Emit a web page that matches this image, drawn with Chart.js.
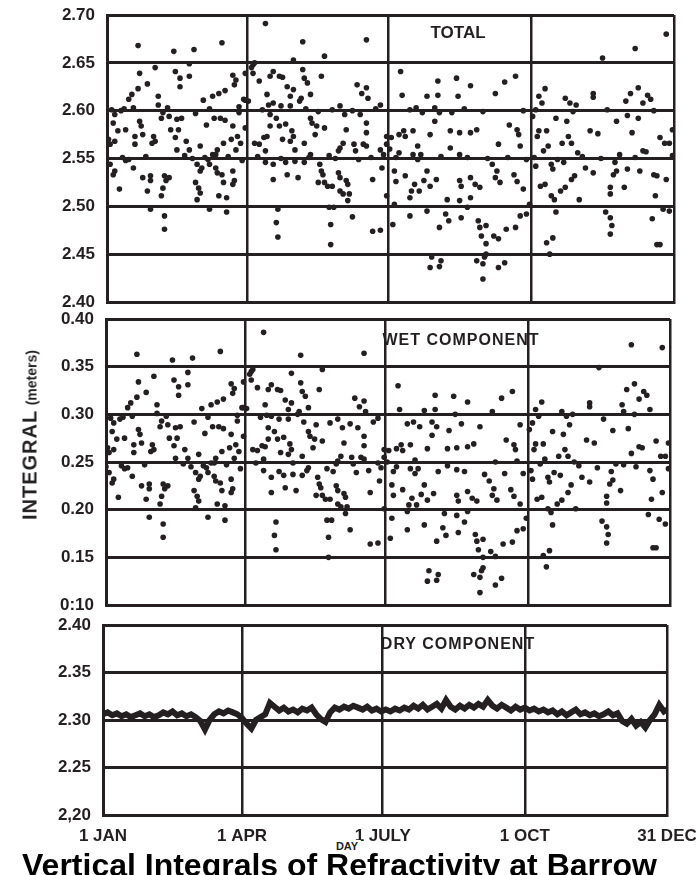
<!DOCTYPE html>
<html>
<head>
<meta charset="utf-8">
<script src="https://cdn.jsdelivr.net/npm/chart.js@4.4.1/dist/chart.umd.min.js"></script>
<style>
  body { margin: 0; width: 696px; height: 875px; overflow: hidden; background: #fff; position: relative;
         font-family: "Liberation Sans", Arial, sans-serif; color: #231f20; }
  canvas { position: absolute; left: 0; }
  .lbl { position: absolute; font-weight: bold; white-space: nowrap; transform: translate(-50%, -50%); }
  #ytitle { position: absolute; left: 30px; top: 435px; transform: translate(-50%, -50%) rotate(-90deg);
            white-space: nowrap; font-weight: bold; }
  #caption { position: absolute; left: 22px; top: 849px; font: bold 32px "Liberation Sans", Arial, sans-serif;
             line-height: 1; white-space: nowrap; color: #000; }
</style>
</head>
<body>
<canvas id="totalChart" width="720" height="310" style="top:0px"></canvas>
<canvas id="wetChart" width="720" height="308" style="top:305px"></canvas>
<canvas id="dryChart" width="720" height="244" style="top:611px"></canvas>

<div class="lbl" style="left:458px;top:33px;font-size:17px">TOTAL</div>
<div class="lbl" style="left:461px;top:340px;font-size:16px;letter-spacing:1px">WET COMPONENT</div>
<div class="lbl" style="left:458px;top:644px;font-size:16px;letter-spacing:1px">DRY COMPONENT</div>
<div id="ytitle"><span style="font-size:20px;letter-spacing:1px">INTEGRAL</span> <span style="font-size:14px">(meters)</span></div>
<div id="caption">Vertical Integrals of Refractivity at Barrow</div>
<div class="lbl" style="left:347px;top:846px;font-size:11px;background:#fff;padding:0 3px">DAY</div>

<script>
// x axis: day of year
const xTickDays = [0, 90, 181, 273, 365];
const xTickLabels = ['1 JAN', '1 APR', '1 JULY', '1 OCT', '31 DEC'];

const totalTicks = [2.40, 2.45, 2.50, 2.55, 2.60, 2.65, 2.70];
const totalTickLabels = ['2.40', '2.45', '2.50', '2.55', '2.60', '2.65', '2.70'];
const wetTicks = [0.10, 0.15, 0.20, 0.25, 0.30, 0.35, 0.40];
const wetTickLabels = ['0:10', '0.15', '0.20', '0.25', '0.30', '0.35', '0.40'];
const dryTicks = [2.20, 2.25, 2.30, 2.35, 2.40];
const dryTickLabels = ['2,20', '2.25', '2.30', '2.35', '2.40'];

// daily soundings (day of year), same days for total and wet
const days = [
  5,4,7,2,5,18,21,22,23,18, 30,29,31,35,40,45,48,41,46,44,
  51,45,53,60,64,69,73,71,68,70, 76,81,84,86,75,80,83,89,20,43,
  56,74,53,21,31,44,47,47,53,26, 20,16,14,17,33,33,62,68,72,76,
  82,83,81,89,88,2,5,4,17,8, 23,28,28,26,37,38,40,36,35,58,
  60,61,57,59,60,58,66,70,71,74, 75,81,82,81,72,77,28,37,37,66,
  77,10,12,14,25,50,55,63,65,78, 87,3,9,11,36,39,57,66,85,1,
  0,12,85,
  102,126,167,140,120,94,107,105,111,113, 98,94,93,95,126,127,129,116,120,138,
  103,118,125,124,131,161,164,167,168,104, 107,112,118,89,91,176,150,105,109,105,
  111,115,131,132,135,140,153,154,163,167, 167,95,98,101,103,113,119,120,118,127,
  134,102,121,131,150,152,149,159,160,165, 167,176,178,180,102,107,115,121,127,107,
  116,123,137,138,139,136,140,142,145,149, 150,154,155,150,152,156,155,171,177,180,
  110,109,110,143,146,144,158,144,171,176, 97,112,130,143,147,162,170,100,128,136,
  145,158,173,
  189,190,206,213,213,225,226,234,250,256, 263,199,203,211,214,222,188,191,192,197,
  208,221,227,234,238,211,200,221,259,264, 265,252,266,188,197,202,227,232,185,192,
  186,204,206,208,198,196,195,201,212,227, 228,234,234,237,240,248,251,253,250,262,
  264,268,219,227,184,195,206,214,218,220, 228,239,240,241,244,249,252,257,263,266,
  270,209,208,215,214,238,243,244,242,242, 252,256,244,180,182,183,186,200,215,245,
  258,270,195,230,242,268,185,232,272,
  360,340,319,282,278,280,295,298,302,313, 313,334,337,342,348,350,345,274,278,277,
  283,289,296,293,297,299,281,284,311,316, 328,335,342,338,356,359,362,345,347,303,
  330,276,286,287,294,279,282,286,288,292, 295,299,301,308,313,304,324,324,326,328,
  327,333,335,343,352,354,360,353,289,321, 324,325,324,351,283,287,354,356,285,358,
  362,275,290,306,318,340,364,276,300,322, 352,364
];

const totalValues = [
  2.596,2.587,2.579,2.565,2.568,2.565,2.589,2.584,2.575,2.573, 2.573,2.566,2.568,2.592,2.594,2.591,2.592,2.580,2.580,2.572,
  2.568,2.559,2.559,2.563,2.585,2.592,2.592,2.559,2.554,2.554, 2.590,2.584,2.573,2.566,2.566,2.570,2.559,2.582,2.668,2.662,
  2.664,2.671,2.649,2.639,2.645,2.641,2.634,2.625,2.636,2.628, 2.623,2.617,2.612,2.603,2.615,2.606,2.611,2.615,2.618,2.621,
  2.627,2.632,2.637,2.639,2.612,2.544,2.537,2.533,2.540,2.518, 2.530,2.532,2.527,2.516,2.532,2.527,2.530,2.519,2.511,2.544,
  2.537,2.540,2.525,2.519,2.514,2.507,2.544,2.540,2.535,2.533, 2.525,2.537,2.527,2.523,2.511,2.509,2.497,2.490,2.476,2.497,
  2.494,2.551,2.548,2.549,2.552,2.553,2.550,2.551,2.549,2.552, 2.548,2.601,2.600,2.602,2.598,2.603,2.597,2.602,2.598,2.570,
  2.550,2.580,2.604,
  2.691,2.672,2.674,2.657,2.653,2.648,2.641,2.636,2.636,2.635, 2.631,2.639,2.645,2.650,2.643,2.634,2.629,2.625,2.622,2.636,
  2.617,2.615,2.613,2.610,2.617,2.627,2.618,2.624,2.613,2.606, 2.608,2.605,2.605,2.611,2.610,2.606,2.605,2.596,2.592,2.584,
  2.584,2.586,2.592,2.587,2.584,2.582,2.596,2.580,2.596,2.587, 2.577,2.566,2.565,2.572,2.573,2.570,2.579,2.573,2.568,2.566,
  2.575,2.558,2.559,2.554,2.561,2.566,2.558,2.565,2.558,2.565, 2.563,2.559,2.554,2.573,2.546,2.544,2.546,2.547,2.546,2.528,
  2.533,2.530,2.544,2.537,2.533,2.525,2.525,2.521,2.521,2.535, 2.530,2.527,2.523,2.516,2.513,2.513,2.506,2.528,2.540,2.511,
  2.497,2.483,2.468,2.499,2.499,2.481,2.489,2.460,2.474,2.475, 2.552,2.550,2.551,2.553,2.550,2.549,2.551,2.601,2.602,2.599,
  2.601,2.600,2.602,
  2.641,2.616,2.615,2.631,2.616,2.634,2.615,2.626,2.618,2.630, 2.636,2.603,2.598,2.603,2.598,2.598,2.575,2.579,2.573,2.579,
  2.575,2.579,2.577,2.577,2.580,2.589,2.563,2.561,2.585,2.580, 2.575,2.565,2.563,2.556,2.554,2.554,2.554,2.551,2.537,2.532,
  2.526,2.527,2.537,2.521,2.523,2.516,2.509,2.516,2.528,2.527, 2.521,2.530,2.509,2.523,2.520,2.544,2.537,2.525,2.530,2.533,
  2.526,2.518,2.507,2.506,2.481,2.490,2.495,2.478,2.492,2.485, 2.488,2.485,2.478,2.469,2.480,2.469,2.466,2.476,2.478,2.490,
  2.492,2.447,2.436,2.443,2.437,2.443,2.447,2.450,2.440,2.424, 2.436,2.441,2.461,2.565,2.560,2.572,2.551,2.549,2.552,2.550,
  2.551,2.549,2.601,2.602,2.599,2.600,2.502,2.499,2.502,
  2.680,2.665,2.655,2.623,2.615,2.608,2.613,2.608,2.606,2.618, 2.614,2.610,2.618,2.624,2.616,2.612,2.608,2.594,2.579,2.573,
  2.579,2.592,2.589,2.566,2.573,2.566,2.558,2.563,2.579,2.576, 2.589,2.595,2.592,2.577,2.572,2.566,2.566,2.558,2.557,2.556,
  2.554,2.542,2.544,2.539,2.546,2.521,2.523,2.511,2.507,2.516, 2.520,2.528,2.532,2.540,2.535,2.507,2.520,2.513,2.533,2.537,
  2.546,2.520,2.539,2.537,2.533,2.532,2.528,2.511,2.494,2.494, 2.488,2.480,2.471,2.487,2.462,2.467,2.460,2.460,2.450,2.497,
  2.495,2.551,2.549,2.552,2.550,2.551,2.553,2.601,2.599,2.601, 2.600,2.580
];

const wetValues = [
  0.291,0.282,0.274,0.260,0.263,0.260,0.284,0.279,0.270,0.268, 0.268,0.261,0.263,0.287,0.289,0.286,0.287,0.275,0.275,0.267,
  0.263,0.254,0.254,0.258,0.280,0.287,0.287,0.254,0.249,0.249, 0.285,0.279,0.268,0.261,0.261,0.265,0.254,0.277,0.363,0.357,
  0.359,0.366,0.344,0.334,0.340,0.336,0.329,0.320,0.331,0.323, 0.318,0.312,0.307,0.298,0.310,0.301,0.306,0.310,0.313,0.316,
  0.322,0.327,0.332,0.334,0.307,0.239,0.232,0.228,0.235,0.213, 0.225,0.227,0.222,0.211,0.227,0.222,0.225,0.214,0.206,0.239,
  0.232,0.235,0.220,0.214,0.209,0.202,0.239,0.235,0.230,0.228, 0.220,0.232,0.222,0.218,0.206,0.204,0.192,0.185,0.171,0.192,
  0.189,0.246,0.243,0.244,0.247,0.248,0.245,0.246,0.244,0.247, 0.243,0.296,0.295,0.297,0.293,0.298,0.292,0.297,0.293,0.265,
  0.245,0.275,0.299,
  0.386,0.362,0.364,0.347,0.343,0.345,0.331,0.326,0.326,0.325, 0.328,0.336,0.342,0.347,0.333,0.324,0.319,0.315,0.312,0.326,
  0.310,0.305,0.303,0.300,0.307,0.317,0.308,0.314,0.303,0.299, 0.298,0.295,0.295,0.307,0.306,0.296,0.295,0.286,0.282,0.274,
  0.274,0.276,0.282,0.277,0.274,0.272,0.286,0.270,0.286,0.277, 0.267,0.263,0.262,0.267,0.266,0.260,0.269,0.263,0.258,0.256,
  0.265,0.253,0.249,0.244,0.251,0.256,0.248,0.255,0.248,0.255, 0.253,0.249,0.244,0.263,0.241,0.234,0.236,0.237,0.236,0.218,
  0.223,0.220,0.234,0.227,0.223,0.215,0.215,0.211,0.211,0.225, 0.220,0.217,0.213,0.206,0.203,0.203,0.196,0.218,0.230,0.201,
  0.187,0.173,0.158,0.189,0.189,0.171,0.179,0.150,0.164,0.165, 0.249,0.240,0.241,0.243,0.240,0.239,0.241,0.297,0.292,0.289,
  0.291,0.290,0.292,
  0.330,0.305,0.304,0.320,0.305,0.319,0.300,0.313,0.303,0.317, 0.324,0.292,0.287,0.292,0.287,0.283,0.264,0.268,0.262,0.268,
  0.264,0.264,0.265,0.266,0.269,0.278,0.252,0.246,0.273,0.268, 0.263,0.250,0.251,0.245,0.243,0.243,0.242,0.240,0.226,0.221,
  0.215,0.216,0.226,0.210,0.212,0.205,0.198,0.205,0.217,0.215, 0.209,0.219,0.198,0.212,0.209,0.230,0.222,0.210,0.215,0.221,
  0.214,0.206,0.196,0.194,0.170,0.179,0.184,0.167,0.181,0.173, 0.176,0.174,0.167,0.158,0.169,0.156,0.151,0.164,0.166,0.178,
  0.180,0.136,0.125,0.132,0.126,0.132,0.136,0.139,0.129,0.113, 0.121,0.128,0.150,0.255,0.250,0.262,0.240,0.238,0.240,0.237,
  0.238,0.238,0.290,0.290,0.287,0.289,0.191,0.187,0.191,
  0.370,0.373,0.349,0.313,0.305,0.298,0.303,0.298,0.300,0.312, 0.308,0.310,0.326,0.332,0.324,0.320,0.316,0.284,0.269,0.263,
  0.269,0.282,0.279,0.256,0.263,0.256,0.248,0.253,0.273,0.270, 0.283,0.303,0.300,0.285,0.272,0.256,0.256,0.266,0.265,0.250,
  0.248,0.232,0.234,0.229,0.236,0.211,0.213,0.201,0.197,0.206, 0.210,0.218,0.226,0.234,0.229,0.201,0.214,0.207,0.227,0.231,
  0.240,0.220,0.247,0.245,0.241,0.232,0.218,0.211,0.184,0.188, 0.182,0.174,0.165,0.195,0.152,0.157,0.160,0.160,0.140,0.190,
  0.185,0.241,0.239,0.246,0.244,0.259,0.243,0.291,0.289,0.295, 0.305,0.270
];

const dryDays = [
  0,3,6,9,12,15,18,21,24,27, 30,33,36,39,42,45,48,51,54,57,
  60,63,66,69,72,75,78,81,84,87, 90,93,96,99,102,105,108,111,114,117,
  120,123,126,129,132,135,138,141,144,147, 150,153,156,159,162,165,168,171,174,177,
  180,183,186,189,192,195,198,201,204,207, 210,213,216,219,222,225,228,231,234,237,
  240,243,246,249,252,255,258,261,264,267, 270,273,276,279,282,285,288,291,294,297,
  300,303,306,309,312,315,318,321,324,327, 330,333,336,339,342,345,348,351,354,357,
  360,363,365
];
const dryValues = [
  2.306,2.308,2.305,2.307,2.304,2.306,2.303,2.305,2.307,2.304, 2.306,2.303,2.305,2.308,2.306,2.309,2.305,2.307,2.304,2.306,
  2.303,2.299,2.290,2.300,2.306,2.309,2.307,2.310,2.308,2.306, 2.302,2.296,2.291,2.300,2.303,2.306,2.318,2.314,2.310,2.313,
  2.309,2.311,2.308,2.312,2.310,2.313,2.306,2.301,2.298,2.308, 2.313,2.311,2.314,2.312,2.315,2.313,2.311,2.314,2.310,2.312,
  2.309,2.311,2.309,2.312,2.310,2.313,2.311,2.315,2.312,2.316, 2.311,2.314,2.317,2.312,2.321,2.314,2.311,2.315,2.312,2.316,
  2.313,2.317,2.314,2.321,2.315,2.312,2.316,2.313,2.310,2.314, 2.311,2.313,2.310,2.312,2.309,2.311,2.308,2.310,2.306,2.309,
  2.305,2.308,2.311,2.306,2.308,2.305,2.307,2.304,2.306,2.309, 2.305,2.307,2.299,2.296,2.301,2.294,2.298,2.292,2.300,2.306,
  2.316,2.309,2.311
];

const ink = '#241f20';
const tickFont = { family: '"Liberation Sans", Arial, sans-serif', size: 17, weight: 'bold' };

function makePanel(id, box, yTicks, yLabels, dataset, showX) {
  const canvas = document.getElementById(id);
  const top = parseInt(canvas.style.top);
  const xh = showX ? 40 : 0;
  new Chart(canvas, {
    type: 'scatter',
    data: { datasets: [dataset] },
    options: {
      responsive: false,
      animation: false,
      layout: { padding: { left: 0, top: box.top - top, right: canvas.width - box.right,
                           bottom: top + canvas.height - xh - box.bottom } },
      plugins: { legend: { display: false }, tooltip: { enabled: false } },
      scales: {
        x: {
          type: 'linear', min: 0, max: 365,
          afterBuildTicks: s => { s.ticks = xTickDays.map(v => ({ value: v })); },
          afterFit: s => { s.height = xh; s.paddingLeft = 0; s.paddingRight = 0; },
          ticks: { display: showX, autoSkip: false, maxRotation: 0, padding: 11, color: ink, font: tickFont,
                   callback: (v, i) => xTickLabels[i] },
          grid: { color: ink, lineWidth: 2.5, drawTicks: false },
          border: { color: ink, width: 3 }
        },
        y: {
          min: yTicks[0], max: yTicks[yTicks.length - 1],
          afterBuildTicks: s => { s.ticks = yTicks.map(v => ({ value: v })); },
          afterFit: s => { s.width = box.left; s.paddingTop = 0; s.paddingBottom = 0; },
          ticks: { autoSkip: false, padding: 12, color: ink, font: tickFont,
                   callback: (v, i) => yLabels[i] },
          grid: { color: ink, lineWidth: 3, drawTicks: false },
          border: { color: ink, width: 3 }
        }
      }
    }
  });
}

function dots(values) {
  return {
    data: days.map((d, i) => ({ x: d, y: values[i] })),
    pointRadius: 2.8, pointBackgroundColor: ink, pointBorderWidth: 0, showLine: false
  };
}

makePanel('totalChart', { left: 107, right: 674, top: 15, bottom: 302 },
  totalTicks, totalTickLabels, dots(totalValues), false);

makePanel('wetChart', { left: 106, right: 670, top: 319, bottom: 605 },
  wetTicks, wetTickLabels, dots(wetValues), false);

makePanel('dryChart', { left: 103, right: 667, top: 625, bottom: 815 },
  dryTicks, dryTickLabels, {
    data: dryDays.map((d, i) => ({ x: d, y: dryValues[i] })),
    showLine: true, borderColor: ink, borderWidth: 6, pointRadius: 0, tension: 0
  }, true);
</script>
</body>
</html>
